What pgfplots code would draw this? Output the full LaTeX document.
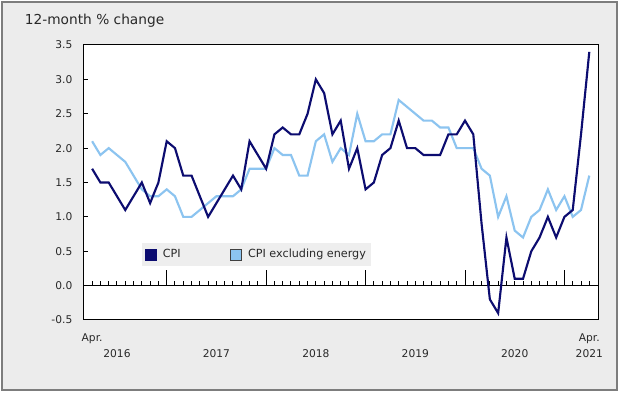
\documentclass[border=0pt]{standalone}
\usepackage{pgfplots}
\pgfplotsset{compat=1.18}
\usepackage{pgfplotstable}
\usepackage{fontspec}
\setmainfont{DejaVu Sans}
\definecolor{cpidark}{RGB}{12,12,112}
\definecolor{cpilight}{RGB}{140,196,240}
\definecolor{bggray}{RGB}{236,236,236}
\definecolor{legendgray}{RGB}{238,238,238}
\definecolor{framegray}{RGB}{125,125,125}
\definecolor{txt}{RGB}{40,40,40}

\pgfplotstableread{
idx cpi core
0 1.7 2.1
1 1.5 1.9
2 1.5 2.0
3 1.3 1.9
4 1.1 1.8
5 1.3 1.6
6 1.5 1.4
7 1.2 1.3
8 1.5 1.3
9 2.1 1.4
10 2.0 1.3
11 1.6 1.0
12 1.6 1.0
13 1.3 1.1
14 1.0 1.2
15 1.2 1.3
16 1.4 1.3
17 1.6 1.3
18 1.4 1.4
19 2.1 1.7
20 1.9 1.7
21 1.7 1.7
22 2.2 2.0
23 2.3 1.9
24 2.2 1.9
25 2.2 1.6
26 2.5 1.6
27 3.0 2.1
28 2.8 2.2
29 2.2 1.8
30 2.4 2.0
31 1.7 1.9
32 2.0 2.5
33 1.4 2.1
34 1.5 2.1
35 1.9 2.2
36 2.0 2.2
37 2.4 2.7
38 2.0 2.6
39 2.0 2.5
40 1.9 2.4
41 1.9 2.4
42 1.9 2.3
43 2.2 2.3
44 2.2 2.0
45 2.4 2.0
46 2.2 2.0
47 0.9 1.7
48 -0.2 1.6
49 -0.4 1.0
50 0.7 1.3
51 0.1 0.8
52 0.1 0.7
53 0.5 1.0
54 0.7 1.1
55 1.0 1.4
56 0.7 1.1
57 1.0 1.3
58 1.1 1.0
59 2.2 1.1
60 3.4 1.6
}\datatable

\pgfplotsset{
  zeroaxis/.style={
    at={(62.25pt,79.78pt)}, anchor=south west,
    width=386.25pt, height=180.47pt, scale only axis,
    xmin=-1.1, xmax=61.05, ymin=0, ymax=3.5,
    axis line style={draw=none},
    ytick=\empty,
    xticklabels={},
    xtick pos=left,
    xtick align=inside,
    tick style={black, line width=0.75pt},
  }
}

\begin{document}
\begin{tikzpicture}[x=1pt,y=1pt]
\useasboundingbox (0,0) rectangle (465,294);
\fill[white] (0,0) rectangle (465,294);
\draw[framegray, line width=1.5pt, fill=bggray] (1.5,1.5) rectangle (462.75,292.5);
\fill[white] (62.25,54) rectangle (448.5,260.25);
\node[anchor=west, inner sep=0pt, text=txt, font=\fontsize{10.3}{12}\selectfont] at (18.5,278.2) {12-month \% change};

% monthly ticks standing on the zero line (bottom of these axes is y = 0)
\begin{axis}[zeroaxis, xtick={0,1,...,60}, major tick length=3.75pt]
\end{axis}
\begin{axis}[zeroaxis, xtick={9,21,33,45,57}, major tick length=12pt]
\end{axis}

\begin{axis}[
  at={(62.25pt,54pt)}, anchor=south west,
  width=386.25pt, height=206.25pt, scale only axis,
  xmin=-1.1, xmax=61.05, ymin=-0.5, ymax=3.5,
  axis line style={black, line width=0.75pt},
  ytick={-0.5,0,0.5,1,1.5,2,2.5,3,3.5},
  yticklabels={-0.5,0.0,0.5,1.0,1.5,2.0,2.5,3.0,3.5},
  ytick pos=left, ytick align=inside,
  major tick length=3.75pt,
  ytick style={black, line width=0.75pt},
  yticklabel style={font=\fontsize{8}{10}\selectfont, text=txt, xshift=-4.5pt},
  extra y ticks={0},
  extra y tick labels={},
  extra y tick style={grid=major, major grid style={black, line width=0.75pt}, tick style={draw=none}},
  xtick={0,3,15,27,39,51,60},
  xticklabels={{Apr.\strut\\\strut},{\strut\\2016\strut},{\strut\\2017\strut},{\strut\\2018\strut},{\strut\\2019\strut},{\strut\\2020\strut},{Apr.\strut\\2021\strut}},
  xtick style={draw=none},
  xticklabel style={align=center, font=\fontsize{8}{12}\selectfont, text=txt, yshift=-4pt},
  legend columns=2,
  legend style={at={(0.1146,0.28)}, anchor=north west, fill=legendgray, draw=none,
    font=\fontsize{8.4}{10}\selectfont, text=txt, inner xsep=2pt, inner ysep=2.5pt,
    /tikz/every even column/.append style={column sep=35pt}},
]
\addplot[cpilight, line width=1.6pt, forget plot] table[x=idx, y=core] {\datatable};
\addplot[cpidark, line width=1.6pt, forget plot] table[x=idx, y=cpi] {\datatable};
\addlegendimage{legend image code/.code={\draw[fill=cpidark, draw=cpidark, line width=0.5pt] (0pt,-4pt) rectangle (8pt,4pt); \path (11pt,0pt);}}
\addlegendentry{CPI}
\addlegendimage{legend image code/.code={\draw[fill=cpilight, draw=black!75, line width=0.5pt] (0pt,-4pt) rectangle (8pt,4pt); \path (11pt,0pt);}}
\addlegendentry{CPI excluding energy}
\end{axis}
\end{tikzpicture}
\end{document}
